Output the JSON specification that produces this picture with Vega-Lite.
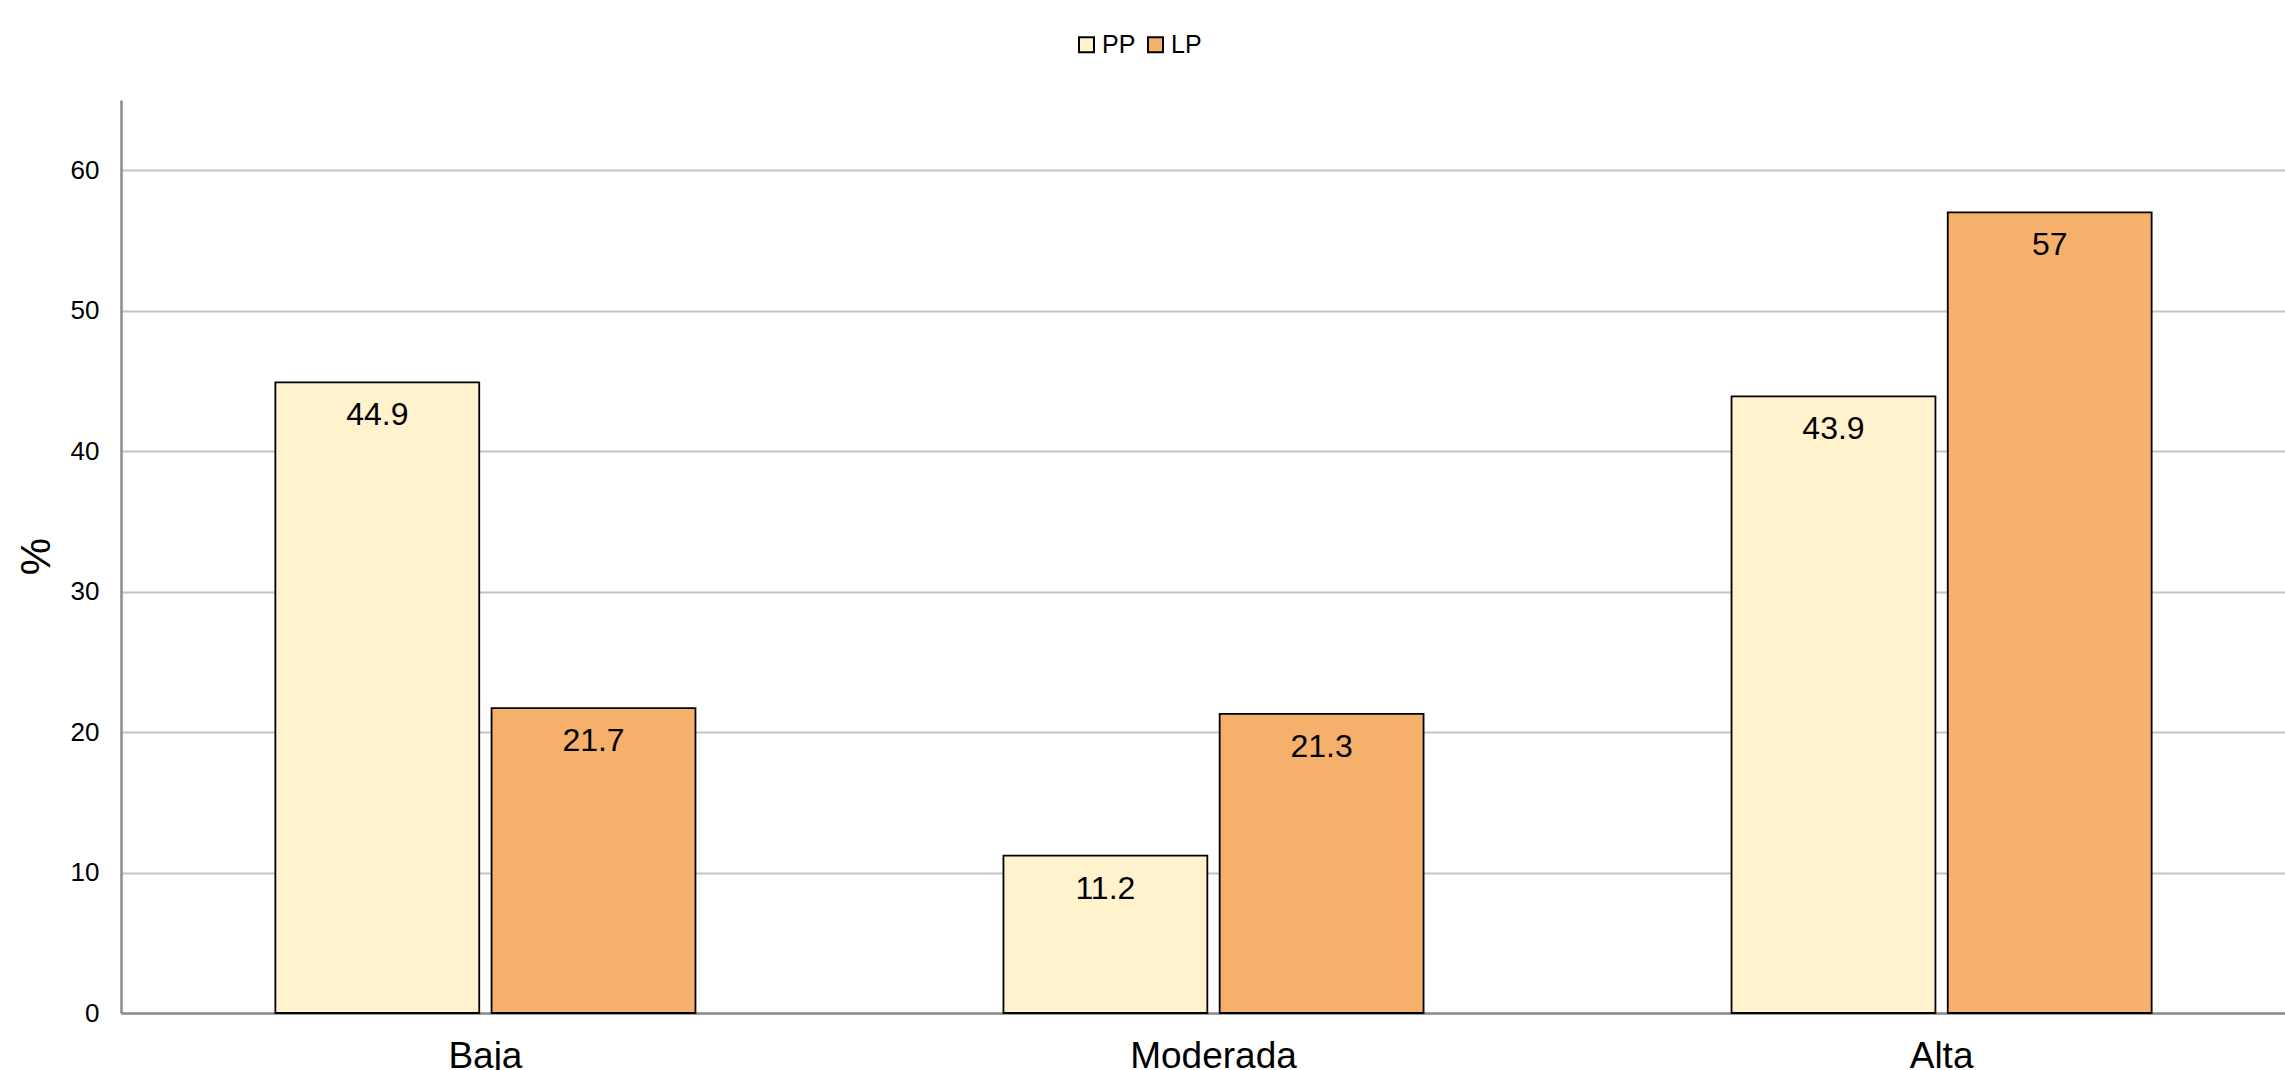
{
  "$schema": "https://vega.github.io/schema/vega-lite/v6.json",
  "autosize": {"type": "none"},
  "width": 2185,
  "height": 913,
  "padding": {"left": 121, "top": 100, "right": 0, "bottom": 57},
  "background": "white",
  "config": {
    "font": "Liberation Sans",
    "view": {"stroke": null}
  },
  "data": {
    "values": [
      {"nivel": "Baja", "grupo": "PP", "valor": 44.9},
      {"nivel": "Baja", "grupo": "LP", "valor": 21.7},
      {"nivel": "Moderada", "grupo": "PP", "valor": 11.2},
      {"nivel": "Moderada", "grupo": "LP", "valor": 21.3},
      {"nivel": "Alta", "grupo": "PP", "valor": 43.9},
      {"nivel": "Alta", "grupo": "LP", "valor": 57}
    ]
  },
  "encoding": {
    "x": {
      "field": "nivel",
      "type": "nominal",
      "sort": ["Baja", "Moderada", "Alta"],
      "scale": {"paddingInner": 0.423, "paddingOuter": 0.212},
      "axis": {
        "title": null,
        "labelAngle": 0,
        "labelFontSize": 37,
        "labelColor": "#000000",
        "labelPadding": 25,
        "ticks": false,
        "domainColor": "#8c8c8c",
        "domainWidth": 2.5
      }
    },
    "xOffset": {
      "field": "grupo",
      "type": "nominal",
      "sort": ["PP", "LP"],
      "scale": {"paddingInner": 0.057}
    },
    "y": {
      "field": "valor",
      "type": "quantitative",
      "scale": {"domain": [0, 65], "nice": false},
      "axis": {
        "title": "%",
        "titleFontSize": 42,
        "titleFontWeight": "normal",
        "titleColor": "#000000",
        "titleAngle": -90,
        "titleX": -85,
        "titleY": 456,
        "titleAlign": "center",
        "titleBaseline": "middle",
        "values": [0, 10, 20, 30, 40, 50, 60],
        "labelFontSize": 26,
        "labelColor": "#000000",
        "labelPadding": 22,
        "ticks": false,
        "domainColor": "#8c8c8c",
        "domainWidth": 2.5,
        "gridColor": "#c4c4c4",
        "gridWidth": 2
      }
    }
  },
  "layer": [
    {
      "mark": {"type": "bar", "stroke": "#000000", "strokeWidth": 1.8},
      "encoding": {
        "color": {
          "field": "grupo",
          "type": "nominal",
          "sort": ["PP", "LP"],
          "scale": {"domain": ["PP", "LP"], "range": ["#FFF2CC", "#F5B16C"]},
          "legend": {
            "title": null,
            "orient": "none",
            "direction": "horizontal",
            "legendX": 953,
            "legendY": -68,
            "symbolType": "square",
            "symbolSize": 225,
            "symbolStrokeColor": "#000000",
            "symbolStrokeWidth": 2,
            "labelFontSize": 25,
            "labelColor": "#000000",
            "labelOffset": 3,
            "columnPadding": 7
          }
        }
      }
    },
    {
      "mark": {"type": "text", "baseline": "top", "dy": 18, "fontSize": 32, "color": "#000000"},
      "encoding": {
        "text": {"field": "valor", "type": "quantitative"}
      }
    }
  ]
}
